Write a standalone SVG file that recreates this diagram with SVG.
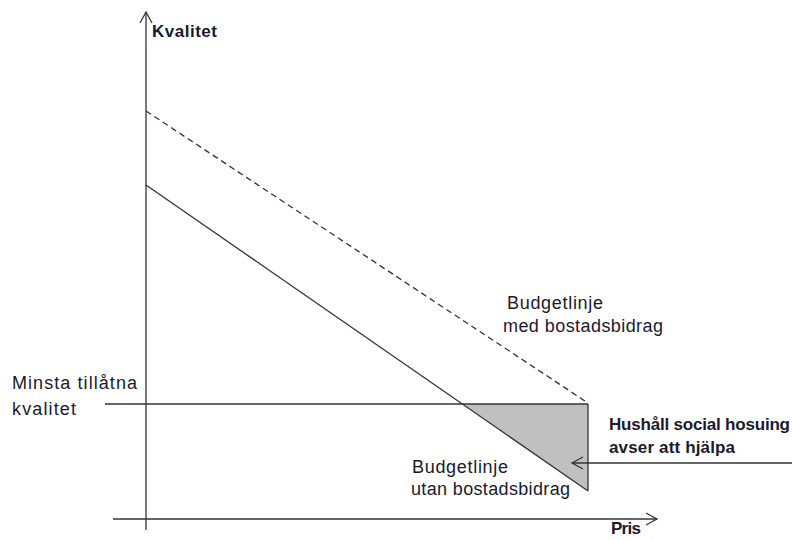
<svg xmlns="http://www.w3.org/2000/svg" width="792" height="540" viewBox="0 0 792 540">
<style>
.ln{stroke:#333;stroke-width:1.3;fill:none}
.t{font-family:"Liberation Sans",Arial,sans-serif;font-size:18px;fill:#1a1a2e}
.b{font-weight:bold;font-size:17px}
</style>
<defs>
<marker id="open" markerWidth="14" markerHeight="14" refX="12" refY="7" orient="auto" markerUnits="userSpaceOnUse">
<path d="M1,1 L12,7 L1,13" fill="none" stroke="#333" stroke-width="1.3"/>
</marker>
</defs>
<rect width="792" height="540" fill="#fff"/>
<g id="region">
<polygon points="463,404 588,404 588,491" fill="#c0c0c0" stroke="none"/>
</g>
<g id="connectors">
<line class="ln" x1="146" y1="530" x2="146" y2="12" marker-end="url(#open)"/>
<line class="ln" x1="113" y1="519" x2="657" y2="519" marker-end="url(#open)"/>
<line class="ln" x1="146" y1="111" x2="588" y2="403" stroke-dasharray="6,4"/>
<line class="ln" x1="146" y1="185" x2="588" y2="491"/>
<line class="ln" x1="105" y1="404" x2="588" y2="404"/>
<line class="ln" x1="588" y1="404" x2="588" y2="491"/>
<line class="ln" x1="792" y1="463" x2="572" y2="463" marker-end="url(#open)"/>
</g>
<g id="labels">
<text class="t b" x="152" y="37" textLength="65">Kvalitet</text>
<text class="t b" x="611" y="534" font-size="16" textLength="30">Pris</text>
<text class="t" x="507" y="309" textLength="96">Budgetlinje</text>
<text class="t" x="503" y="332" textLength="160">med bostadsbidrag</text>
<text class="t" x="12" y="389" textLength="125">Minsta tillåtna</text>
<text class="t" x="12" y="415" textLength="64">kvalitet</text>
<text class="t b" x="609" y="430" textLength="181">Hushåll social hosuing</text>
<text class="t b" x="609" y="453" textLength="126">avser att hjälpa</text>
<text class="t" x="412" y="473" textLength="96">Budgetlinje</text>
<text class="t" x="411" y="495" textLength="159">utan bostadsbidrag</text>
</g>
</svg>
